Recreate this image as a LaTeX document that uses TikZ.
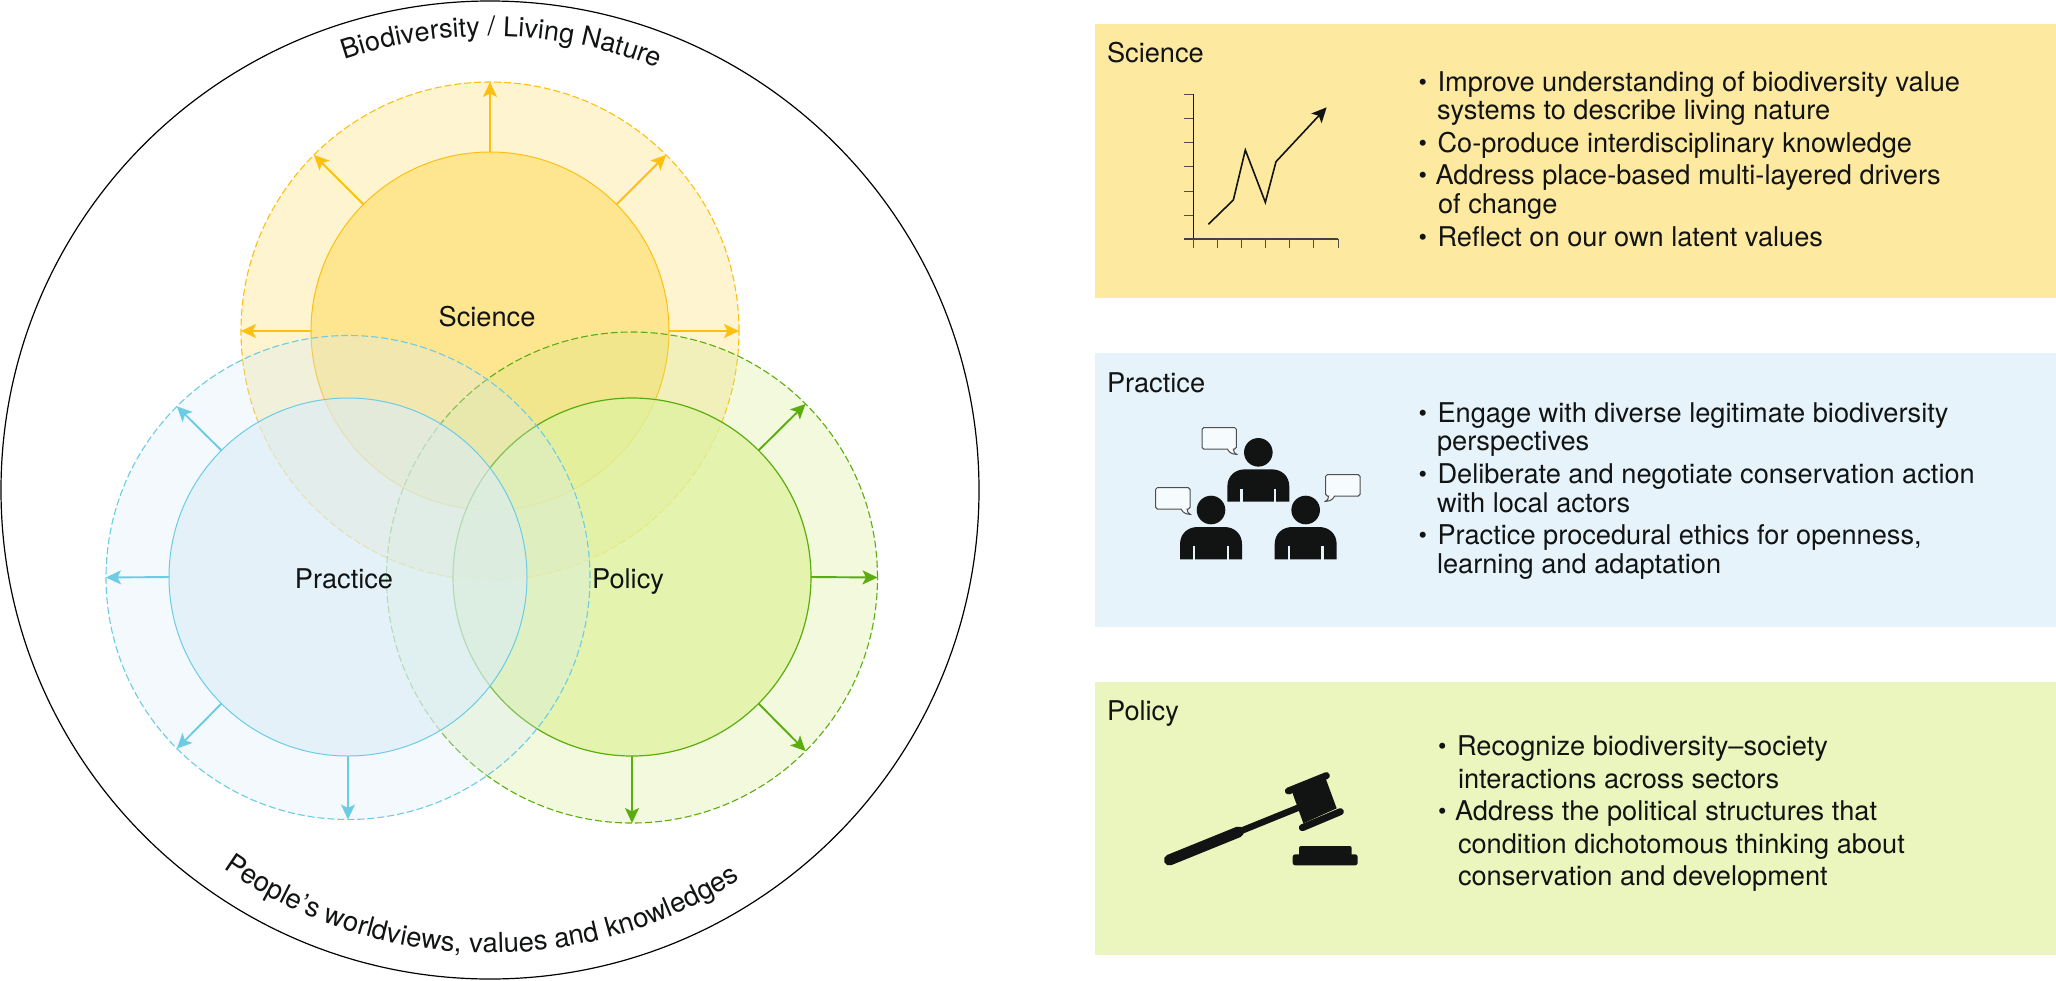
\documentclass[tikz,border=0pt]{standalone}
\usepackage{fontspec}
\setmainfont{TeX Gyre Heros}
\usetikzlibrary{arrows.meta,decorations.text}
\definecolor{ink}{HTML}{121414}
\definecolor{sciS}{HTML}{FDC010}
\definecolor{praS}{HTML}{6CCCE4}
\definecolor{polS}{HTML}{5BAD0F}
\definecolor{sciBox}{HTML}{FDE9A0}
\definecolor{praBox}{HTML}{E6F3FB}
\definecolor{polBox}{HTML}{EAF6BD}
\newcommand{\bul}{\makebox[19pt][l]{\fontsize{24}{24}\selectfont\raisebox{0.4pt}{•}}}
\tikzset{
  txt/.style={anchor=base west,inner sep=0pt,outer sep=0pt,text=ink,font=\fontsize{27.2}{29}\selectfont},
  ctr/.style={anchor=base,inner sep=0pt,outer sep=0pt,text=ink,font=\fontsize{27.2}{29}\selectfont},
  ringnode/.style={circle,inner sep=0pt,outer sep=0pt,minimum size=#1},
  outerring/.style={line width=1.1pt,dash pattern=on 7pt off 3pt},
  innerring/.style={line width=1pt},
  arr/.style={line width=1.9pt,-{Stealth[length=15pt,width=14pt,inset=3.5pt]}},
  panel/.style={anchor=north west,inner sep=0pt,outer sep=0pt,minimum width=961pt},
  person/.pic={
    \fill[ink] (0,-51) circle[radius=14.3pt];
    \fill[ink] (-93,97) -- (-93,52) .. controls (-93,20) and (-70,0) .. (-40,0) -- (40,0) .. controls (70,0) and (93,20) .. (93,52) -- (93,97) -- cycle;
    \fill[praBox] (-54,58) rectangle (-47,98);
    \fill[praBox] (47,58) rectangle (54,98);
  },
  bubble/.pic={
    \draw[ink!75,fill=praBox!35!white,line width=1pt] (-98,0) -- (-5,0) .. controls (-2,0) and (0,2) .. (0,5) -- (0,59) .. controls (0,62) and (-2,64) .. (-5,64) -- (-9,64) .. controls (-9,72) and (-5,78) .. (1,80) .. controls (-8,80) and (-20,78) .. (-27,64) -- (-98,64) .. controls (-101,64) and (-103,62) .. (-103,59) -- (-103,5) .. controls (-103,2) and (-101,0) .. (-98,0) -- cycle;
  }
}
\begin{document}
\begin{tikzpicture}[x=1pt,y=-1pt]
\useasboundingbox (0,0) rectangle (2056,980);

% outer circle
\node[ringnode=978pt,draw=black,line width=1.2pt] (world) at (490,490) {};

% Science
\node[ringnode=498pt,fill={rgb,255:red,254;green,244;blue,208},draw=sciS,outerring] (sciO) at (490,331) {};
\node[ringnode=358pt,fill={rgb,255:red,254;green,230;blue,145},draw=sciS,innerring] (sciI) at (490,331) {};
\foreach \a in {0,45,90,135,180}{\draw[arr,sciS] (sciI.\a) -- (sciO.\a);}

% Policy
\node[ringnode=491pt,fill={rgb,255:red,208;green,232;blue,130},fill opacity=.27,draw=polS,draw opacity=1,outerring] (polO) at (632,577.5) {};
\node[ringnode=358pt,fill={rgb,255:red,224;green,242;blue,160},fill opacity=.77,draw=polS,draw opacity=1,line width=1.2pt] (polI) at (632,577) {};
\foreach \a in {45,0,-45,-90}{\draw[arr,polS] (polI.\a) -- (polO.\a);}

% Practice
\node[ringnode=484pt,fill={rgb,255:red,214;green,234;blue,246},fill opacity=.3,draw=praS,draw opacity=1,outerring] (praO) at (348,577.5) {};
\node[ringnode=358pt,fill={rgb,255:red,218;green,237;blue,248},fill opacity=.6,draw=praS,draw opacity=1,innerring] (praI) at (348,577) {};
\foreach \a in {135,180,225,270}{\draw[arr,praS] (praI.\a) -- (praO.\a);}

% circle labels
\node[ctr] (lsci) at (487,326) {Science};
\node[ctr] (lpra) at (344,588) {Practice};
\node[ctr] (lpol) at (628,588) {Policy};

% curved labels
\coordinate (wc) at (490,490);
\path[decorate,decoration={text along path,text align=center,text color=ink,
  text={|\fontsize{27}{29}\selectfont|Biodiversity / Living Nature}}]
  (wc) ++(120:454pt) arc[start angle=120,end angle=57,radius=454pt];
\path[decorate,decoration={text along path,text align=center,text color=ink,
  text={|\fontsize{27.5}{29}\selectfont|People’s worldviews, values and knowledges}}]
  (wc) ++(218.3:463pt) arc[start angle=218.3,end angle=319.3,radius=463pt];

% panels
\node[panel,fill=sciBox,minimum height=274pt] (pSci) at (1095,24) {};
\node[panel,fill=praBox,minimum height=274pt] (pPra) at (1095,353) {};
\node[panel,fill=polBox,minimum height=273pt] (pPol) at (1095,682) {};

% panel titles
\node[txt] (tSci) at (1107,62) {Science};
\node[txt] (tPra) at (1107,392) {Practice};
\node[txt] (tPol) at (1107,720) {Policy};

% Science text
\node[txt] (s1) at (1418.5,91) {\bul Improve understanding of biodiversity value};
\node[txt] (s2) at (1437,119) {systems to describe living nature};
\node[txt] (s3) at (1418.5,152) {\bul Co-produce interdisciplinary knowledge};
\node[txt] (s4) at (1418.5,184) {\bul\hspace{-2pt}Address place-based multi-layered drivers};
\node[txt] (s5) at (1438,213) {of change};
\node[txt] (s6) at (1418.5,246) {\bul Reflect on our own latent values};

% Practice text
\node[txt] (r1) at (1418.5,422) {\bul Engage with diverse legitimate biodiversity};
\node[txt] (r2) at (1437,450) {perspectives};
\node[txt] (r3) at (1418.5,483) {\bul Deliberate and negotiate conservation action};
\node[txt] (r4) at (1437,512) {with local actors};
\node[txt] (r5) at (1418.5,544) {\bul Practice procedural ethics for openness,};
\node[txt] (r6) at (1437,573) {learning and adaptation};

% Policy text
\node[txt] (c1) at (1438,755) {\bul Recognize biodiversity–society};
\node[txt] (c2) at (1458,788) {interactions across sectors};
\node[txt] (c3) at (1438,820) {\bul\hspace{-2pt}Address the political structures that};
\node[txt] (c4) at (1458,853) {condition dichotomous thinking about};
\node[txt] (c5) at (1458,885) {conservation and development};

% chart icon
\begin{scope}[shift={(1170,80)},x=0.33333pt,y=-0.33333pt]
  \draw[ink,line width=1pt] (70,43) -- (70,505);
  \draw[ink!80,line width=1.2pt] (42,477) -- (504,477);
  \foreach \yy in {43,116,188,260,333,405}{\draw[ink!75,line width=1pt] (42,\yy) -- (70,\yy);}
  \foreach \xx in {70,142,214,287,359,431,504}{\draw[ink!75,line width=1pt] (\xx,477) -- (\xx,505);}
  \draw[ink,line width=1.6pt,miter limit=10,-{Stealth[length=15pt,width=14pt,inset=3.5pt]}]
    (115,433) -- (190,360) -- (226,210) -- (286,367) -- (318,245) -- (470,82);
\end{scope}

% people icon
\begin{scope}[shift={(1130,420)},x=0.33333pt,y=-0.33333pt]
  \pic at (319,23) {bubble};
  \pic at (180,203) {bubble};
  \pic[xscale=-1] at (587,164) {bubble};
  \pic at (385,148) {person};
  \pic at (243,321) {person};
  \pic at (527,321) {person};
\end{scope}

% gavel icon
\begin{scope}[shift={(1150,760)},x=0.33333pt,y=-0.33333pt]
  \draw[ink,line width=11pt,line cap=round] (58,300) -- (265,216);
  \draw[ink,line width=6.5pt] (260,218) -- (450,141);
  \fill[ink] (425,92) -- (525,50) -- (560,145) -- (460,190) -- cycle;
  \draw[ink,line width=7pt,line cap=round] (415,93) -- (529,47);
  \draw[ink,line width=7pt,line cap=round] (457,203) -- (571,155);
  \fill[ink,rounded corners=2pt] (447,258) rectangle (605,295);
  \fill[ink,rounded corners=2.5pt] (428,283) rectangle (623,316);
\end{scope}
\end{tikzpicture}
\end{document}
